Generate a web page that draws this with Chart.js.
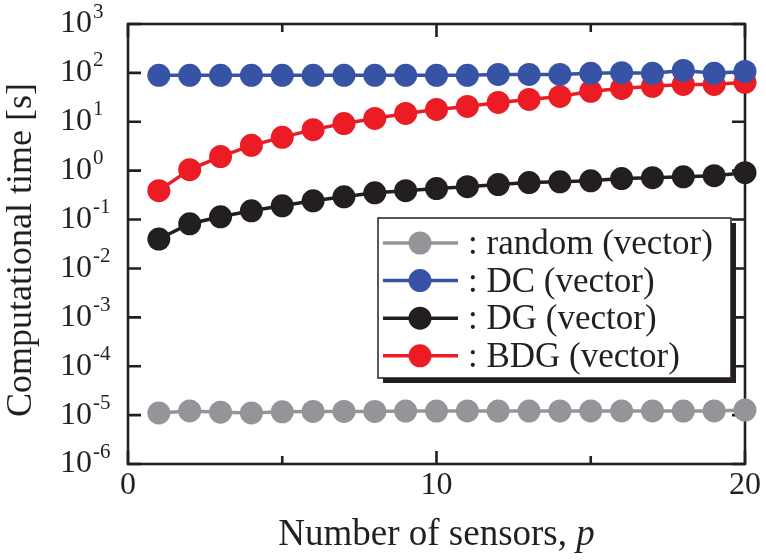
<!DOCTYPE html>
<html>
<head>
<meta charset="utf-8">
<script src="https://cdn.jsdelivr.net/npm/chart.js@4.4.1/dist/chart.umd.min.js"></script>
<style>
  html, body { margin: 0; padding: 0; background: #ffffff; }
  canvas { display: block; }
</style>
</head>
<body>
<canvas id="timeChart" width="766" height="560"></canvas>
<script>
// Data
///////////////////////////////////////////////////////////////
const sensors = [1, 2, 3, 4, 5, 6, 7, 8, 9, 10, 11, 12, 13, 14, 15, 16, 17, 18, 19, 20];

const randomTime = [1.11e-5, 1.22e-5, 1.15e-5, 1.11e-5, 1.17e-5, 1.19e-5, 1.19e-5, 1.19e-5, 1.21e-5, 1.21e-5,
                    1.22e-5, 1.21e-5, 1.21e-5, 1.22e-5, 1.22e-5, 1.22e-5, 1.22e-5, 1.21e-5, 1.22e-5, 1.27e-5];
const dcTime = [89, 89, 89, 89, 89, 89, 89, 89, 89, 89, 89, 93, 93, 93, 98, 101, 98, 112, 98, 107];
const dgTime = [0.040, 0.082, 0.114, 0.151, 0.191, 0.242, 0.292, 0.353, 0.39, 0.43,
                0.47, 0.52, 0.57, 0.59, 0.62, 0.69, 0.72, 0.75, 0.79, 0.91];
const bdgTime = [0.39, 1.05, 1.94, 3.3, 4.8, 6.9, 9.2, 11.7, 14.8, 17.9,
                 20.6, 24.9, 28.7, 33, 42, 48, 53, 58, 58, 64];

const seriesNames = ['random (vector)', 'DC (vector)', 'DG (vector)', 'BDG (vector)'];
const seriesColours = ['#939598', '#3753a5', '#231f20', '#ec1c24'];

const xTicks = [0, 5, 10, 15, 20];
const xTickLabels = [0, 10, 20];
const yTickExps = [-6, -5, -4, -3, -2, -1, 0, 1, 2, 3];

const xTitle = 'Number of sensors, ';
const xTitleVar = 'p';
const yTitle = 'Computational time [s]';

// Helpers
///////////////////////////////////////////////////////////////
const FONT = "'Liberation Serif', 'DejaVu Serif', 'Times New Roman', serif";
const INK = '#231f20';

function toPoints(values) {
    return sensors.map((p, i) => ({ x: p, y: values[i] }));
}

function makeDataset(index, values) {
    return {
        label: seriesNames[index],
        data: toPoints(values),
        borderColor: seriesColours[index],
        backgroundColor: seriesColours[index],
        pointBackgroundColor: seriesColours[index],
        pointBorderWidth: 0,
        pointRadius: 11.5,
        borderWidth: 3.5,
        tension: 0,
        clip: false
    };
}

// frame + inward ticks, drawn under the marks
const framePlugin = {
    id: 'frame',
    beforeDatasetsDraw(chart) {
        const ctx = chart.ctx;
        const a = chart.chartArea;
        const xs = chart.scales.x;
        const ys = chart.scales.y;
        ctx.save();
        ctx.strokeStyle = INK;
        ctx.lineWidth = 2.6;
        ctx.strokeRect(a.left, a.top, a.right - a.left, a.bottom - a.top);
        ctx.beginPath();
        xTicks.forEach(v => {
            const px = xs.getPixelForValue(v);
            const len = xTickLabels.includes(v) ? 13 : 8;
            ctx.moveTo(px, a.bottom); ctx.lineTo(px, a.bottom - len);
            ctx.moveTo(px, a.top); ctx.lineTo(px, a.top + len);
        });
        yTickExps.forEach(e => {
            const py = ys.getPixelForValue(Math.pow(10, e));
            ctx.moveTo(a.left, py); ctx.lineTo(a.left + 13, py);
            ctx.moveTo(a.right, py); ctx.lineTo(a.right - 13, py);
        });
        ctx.stroke();
        ctx.restore();
    },
    afterDraw(chart) {
        const ctx = chart.ctx;
        const a = chart.chartArea;
        const ys = chart.scales.y;
        ctx.save();
        ctx.fillStyle = INK;

        // exponents next to the "10" tick labels
        ctx.font = '21px ' + FONT;
        ctx.textAlign = 'left';
        ctx.textBaseline = 'middle';
        yTickExps.forEach(e => {
            const py = ys.getPixelForValue(Math.pow(10, e));
            ctx.fillText(String(e), 93, py - 12);
        });

        // x axis title with an italic p
        ctx.textBaseline = 'alphabetic';
        ctx.font = '37px ' + FONT;
        const w1 = ctx.measureText(xTitle).width;
        ctx.font = 'italic 37px ' + FONT;
        const w2 = ctx.measureText(xTitleVar).width;
        let x0 = (a.left + a.right) / 2 - (w1 + w2) / 2;
        ctx.font = '37px ' + FONT;
        ctx.fillText(xTitle, x0, 545);
        ctx.font = 'italic 37px ' + FONT;
        ctx.fillText(xTitleVar, x0 + w1, 545);

        // y axis title, rotated
        ctx.save();
        ctx.translate(31, 250);
        ctx.rotate(-Math.PI / 2);
        ctx.textAlign = 'center';
        ctx.font = '36px ' + FONT;
        ctx.fillText(yTitle, 0, 0);
        ctx.restore();

        ctx.restore();
    }
};

// boxed legend with a drop shadow
const boxLegendPlugin = {
    id: 'boxLegend',
    afterDraw(chart) {
        const ctx = chart.ctx;
        const box = { left: 378, top: 218, width: 353, height: 160 };
        ctx.save();
        ctx.fillStyle = INK;
        ctx.fillRect(box.left + 5, box.top + 5, box.width, box.height);
        ctx.fillStyle = '#ffffff';
        ctx.fillRect(box.left, box.top, box.width, box.height);
        ctx.strokeStyle = INK;
        ctx.lineWidth = 1.5;
        ctx.strokeRect(box.left, box.top, box.width, box.height);

        ctx.font = '35px ' + FONT;
        ctx.textBaseline = 'middle';
        chart.data.datasets.forEach((ds, i) => {
            const y = 243 + i * 37.6;
            ctx.strokeStyle = ds.borderColor;
            ctx.lineWidth = 3.5;
            ctx.beginPath();
            ctx.moveTo(383, y); ctx.lineTo(458, y);
            ctx.stroke();
            ctx.fillStyle = ds.backgroundColor;
            ctx.beginPath();
            ctx.arc(420, y, 11.5, 0, Math.PI * 2);
            ctx.fill();
            ctx.fillStyle = INK;
            ctx.fillText(': ' + ds.label, 468, y + 2);
        });
        ctx.restore();
    }
};

// Chart
///////////////////////////////////////////////////////////////
const config = {
    type: 'line',
    data: {
        datasets: [
            makeDataset(0, randomTime),
            makeDataset(1, dcTime),
            makeDataset(2, dgTime),
            makeDataset(3, bdgTime)
        ]
    },
    options: {
        responsive: false,
        animation: false,
        layout: { padding: { left: 0, right: 21, top: 24, bottom: 0 } },
        plugins: {
            legend: { display: false },
            tooltip: { enabled: false }
        },
        scales: {
            x: {
                type: 'linear',
                min: 0,
                max: 20,
                afterBuildTicks: scale => { scale.ticks = xTicks.map(v => ({ value: v })); },
                afterFit: scale => {
                    scale.height = 96;
                    scale.paddingLeft = 0;
                    scale.paddingRight = 0;
                },
                grid: { display: false, drawTicks: false },
                border: { display: false },
                ticks: {
                    padding: 2,
                    maxRotation: 0,
                    autoSkip: false,
                    color: INK,
                    font: { family: FONT, size: 32 },
                    callback: v => xTickLabels.includes(v) ? String(v) : ''
                }
            },
            y: {
                type: 'logarithmic',
                min: 1e-6,
                max: 1e3,
                afterBuildTicks: scale => { scale.ticks = yTickExps.map(e => ({ value: Math.pow(10, e) })); },
                afterFit: scale => {
                    scale.width = 128;
                    scale.paddingTop = 0;
                    scale.paddingBottom = 0;
                },
                grid: { display: false, drawTicks: false },
                border: { display: false },
                ticks: {
                    padding: 36,
                    autoSkip: false,
                    color: INK,
                    font: { family: FONT, size: 32 },
                    callback: () => '10'
                }
            }
        }
    },
    plugins: [framePlugin, boxLegendPlugin]
};

const timeChart = new Chart(document.getElementById('timeChart'), config);
</script>
</body>
</html>
